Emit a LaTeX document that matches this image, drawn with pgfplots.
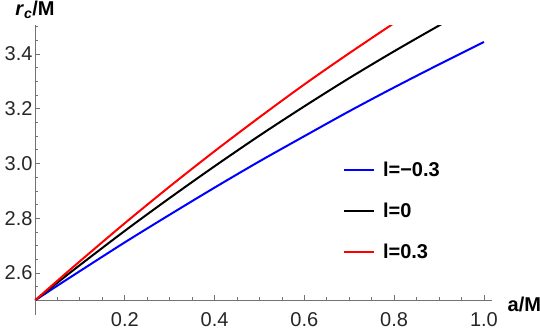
\documentclass[border=0pt]{standalone}
\usepackage{fontspec}
\setmainfont{Liberation Sans}
\usepackage{pgfplots}
\pgfplotsset{compat=1.18}
\definecolor{axgray}{gray}{0.45}

\begin{document}
\begin{tikzpicture}
\useasboundingbox (-35pt,-29.6pt) rectangle (505pt,300.4pt);
\begin{axis}[
    at={(0,0)}, anchor=south west,
    scale only axis,
    width=457pt, height=275.4pt,
    xmin=0, xmax=1.018,
    ymin=2.5, ymax=3.506,
    axis lines=middle,
    axis line style={axgray, line width=0.8pt, -},
    tick style={axgray, line width=0.8pt},
    tick align=inside,
    major tick length=5pt,
    minor tick length=3pt,
    xtick={0.2,0.4,0.6,0.8,1.0},
    xticklabels={0.2,0.4,0.6,0.8,1.0},
    ytick={2.6,2.8,3.0,3.2,3.4},
    yticklabels={2.6,2.8,3.0,3.2,3.4},
    minor xtick={0.05,0.1,0.15,0.25,0.3,0.35,0.45,0.5,0.55,0.65,0.7,0.75,0.85,0.9,0.95},
    minor ytick={2.55,2.65,2.7,2.75,2.85,2.9,2.95,3.05,3.1,3.15,3.25,3.3,3.35,3.45,3.5},
    ticklabel style={font=\fontsize{20}{20}\selectfont, text=black!85},
    xticklabel style={yshift=-9pt},
    yticklabel style={xshift=1pt},
    clip mode=individual,
    legend cell align=left,
    legend image code/.code={\draw[#1] (0pt,0pt) -- (30pt,0pt);},
    legend style={at={(0.667,0.51)}, anchor=north west, draw=none, fill=none,
        font=\fontsize{20}{20}\selectfont\bfseries,
        row sep=25pt, column sep=8pt, nodes={inner sep=0pt}},
]
\addplot[blue, line width=2pt, smooth] coordinates {
    (0,2.5) (0.05,2.554) (0.1,2.607) (0.2,2.712) (0.3,2.813) (0.4,2.912)
    (0.5,3.008) (0.6,3.100) (0.7,3.191) (0.8,3.278) (0.9,3.362) (1.0,3.444)
};
\addlegendentry{l=−0.3}
\addplot[black, line width=2pt, smooth] coordinates {
    (0,2.5) (0.05,2.565) (0.1,2.629) (0.2,2.754) (0.3,2.874) (0.4,2.990)
    (0.5,3.102) (0.6,3.209) (0.7,3.312) (0.8,3.410) (0.9,3.504) (0.95,3.549)
};
\addlegendentry{l=0}
\addplot[red, line width=2pt, smooth] coordinates {
    (0,2.5) (0.05,2.572) (0.1,2.643) (0.2,2.782) (0.3,2.916) (0.4,3.045)
    (0.5,3.169) (0.6,3.289) (0.7,3.403) (0.8,3.513) (0.85,3.567)
};
\addlegendentry{l=0.3}
\draw[axgray, line width=0.8pt] (axis cs:0,2.5) -- (axis cs:0,2.447);
\node[anchor=west, font=\fontsize{20}{20}\selectfont\bfseries] at (axis cs:1.045,2.487) {a/M};
\node[font=\fontsize{20}{20}\selectfont\bfseries] at (axis cs:0,3.56) {\textit{r}\textsubscript{\textit{c}}/M};
\end{axis}
\end{tikzpicture}
\end{document}
